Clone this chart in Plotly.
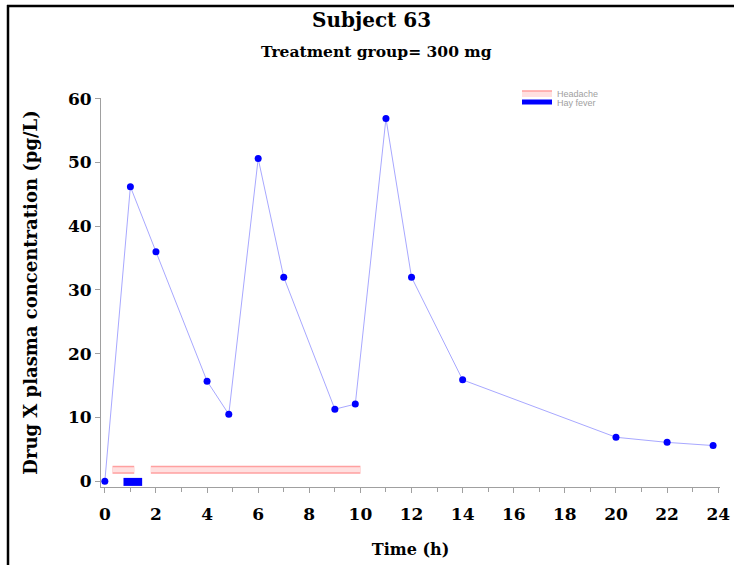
import plotly.graph_objects as go

# ---- data ----
time_h = [0, 1, 2, 4, 4.85, 6, 7, 9, 9.8, 11, 12, 14, 20, 22, 23.8]
conc = [0, 46.2, 36.0, 15.7, 10.5, 50.6, 32.0, 11.3, 12.1, 56.9, 32.0, 15.9, 6.9, 6.1, 5.6]

headache_start = [0.3, 1.8]
headache_end = [1.15, 10.0]
headache_level = 1.8

hayfever_start = [0.73]
hayfever_end = [1.46]
hayfever_level = -0.1

x_ticks = list(range(0, 25, 2))
y_ticks = list(range(0, 61, 10))

title_text = "Subject 63"
subtitle_text = "Treatment group= 300 mg"
x_title = "Time (h)"
y_title = "Drug X plasma concentration (pg/L)"

SERIF = "DejaVu Serif"

# ---- layout geometry (pixels) ----
W, H = 734, 565
L, R, T, B = 101, 14, 98, 78
pw, ph = W - L - R, H - T - B


def px_x(p):
    return (p - L) / pw


def px_y(p):
    return (H - B - p) / ph


def segments(starts, ends, level):
    xs, ys = [], []
    for s, e in zip(starts, ends):
        xs += [s, e, None]
        ys += [level, level, None]
    return xs, ys


fig = go.Figure()

hx, hy = segments(headache_start, headache_end, headache_level)
fig.add_trace(go.Scatter(x=hx, y=hy, mode="lines", showlegend=False,
                         line=dict(color="#ffa0a0", width=8), hoverinfo="skip"))
fig.add_trace(go.Scatter(x=hx, y=hy, mode="lines", showlegend=False,
                         line=dict(color="#ffe0e0", width=5), hoverinfo="skip"))
# legend proxy for Headache (no data)
fig.add_trace(go.Scatter(x=[None], y=[None], mode="lines", name="Headache", legend="legend",
                         fill="toself", fillcolor="#ffe0e0",
                         line=dict(color="#ffa0a0", width=1.5)))

fx, fy = segments(hayfever_start, hayfever_end, hayfever_level)
fig.add_trace(go.Scatter(x=fx, y=fy, mode="lines", showlegend=False,
                         line=dict(color="#0000ff", width=8), hoverinfo="skip"))
# legend proxy for Hay fever (no data)
fig.add_trace(go.Scatter(x=[None], y=[None], mode="lines", name="Hay fever", legend="legend2",
                         line=dict(color="#0000ff", width=5)))

fig.add_trace(go.Scatter(x=time_h, y=conc, mode="lines+markers", showlegend=False,
                         line=dict(color="#a8a8ff", width=1),
                         marker=dict(color="#0000ff", size=7)))

tickfont = dict(family=SERIF, size=17, color="black", weight="bold")
axis_common = dict(showgrid=False, zeroline=False, showline=True, linecolor="#a0a0a0",
                   linewidth=1, ticks="outside", tickcolor="#a0a0a0", ticklen=5,
                   tickfont=tickfont)

fig.update_xaxes(range=[-0.15, 24.07], tickvals=x_ticks, **axis_common,
                 ticklabelstandoff=7,
                 minor=dict(dtick=1, ticks="outside", ticklen=4, tickcolor="#a0a0a0"),
                 title=dict(text="<b>" + x_title + "</b>", standoff=20,
                            font=dict(family=SERIF, size=16, color="black")))
fig.update_yaxes(range=[-0.9, 60.1], tickvals=y_ticks, **axis_common,
                 title=dict(text="<b>" + y_title + "</b>", standoff=25,
                            font=dict(family=SERIF, size=18, color="black")))

legend_font = dict(family="Liberation Sans", size=9, color="#a0a0a0")
fig.update_layout(
    width=W, height=H,
    margin=dict(l=L, r=R, t=T, b=B, autoexpand=False),
    paper_bgcolor="white", plot_bgcolor="white",
    showlegend=True,
    legend=dict(x=px_x(517), y=px_y(93), xanchor="left", yanchor="middle",
                bgcolor="rgba(0,0,0,0)", font=legend_font),
    legend2=dict(x=px_x(517), y=px_y(102), xanchor="left", yanchor="middle",
                 bgcolor="rgba(0,0,0,0)", font=legend_font),
    annotations=[
        dict(text="<b>" + title_text + "</b>", x=px_x(371), y=px_y(20), xref="paper", yref="paper",
             showarrow=False, font=dict(family=SERIF, size=20, color="black"), xanchor="center", yanchor="middle"),
        dict(text="<b>" + subtitle_text + "</b>", x=px_x(376), y=px_y(52), xref="paper", yref="paper",
             showarrow=False, font=dict(family=SERIF, size=15.5, color="black"), xanchor="center", yanchor="middle"),
    ],
    shapes=[
        dict(type="line", xref="paper", yref="paper", x0=px_x(7), x1=px_x(734), y0=px_y(6), y1=px_y(6),
             line=dict(color="black", width=2.5)),
        dict(type="line", xref="paper", yref="paper", x0=px_x(8), x1=px_x(8), y0=px_y(5), y1=px_y(565),
             line=dict(color="black", width=2.5)),
    ],
)

fig.write_html("out.html", config={"displayModeBar": False},
               post_script="document.body.style.margin='0';document.body.style.overflow='hidden';")
